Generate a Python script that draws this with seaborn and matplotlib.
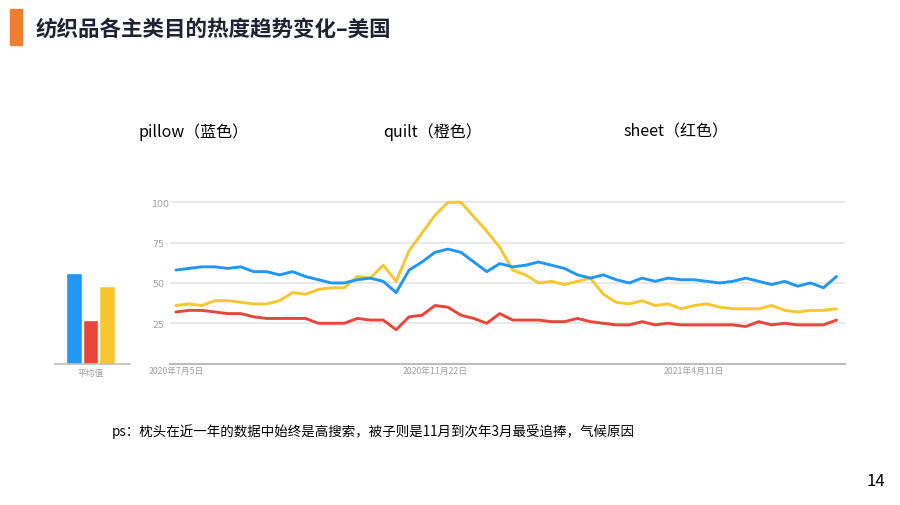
import matplotlib

matplotlib.use("Agg")
import matplotlib.pyplot as plt
import matplotlib.patches as mpatches
import pandas as pd
import seaborn as sns

# weekly search interest, 2020-07-05 .. 2021-06-27 (52 weeks)
PILLOW = [58, 59, 60, 60, 59, 60, 57, 57, 55, 57, 54, 52, 50, 50, 52, 53, 51, 44,
          58, 63, 69, 71, 69, 63, 57, 62, 60, 61, 63, 61, 59, 55, 53, 55, 52, 50,
          53, 51, 53, 52, 52, 51, 50, 51, 53, 51, 49, 51, 48, 50, 47, 54]
QUILT = [36, 37, 36, 39, 39, 38, 37, 37, 39, 44, 43, 46, 47, 47, 54, 53, 61, 51,
         70, 81, 92, 100, 100, 91, 82, 72, 58, 55, 50, 51, 49, 51, 53, 43, 38, 37,
         39, 36, 37, 34, 36, 37, 35, 34, 34, 34, 36, 33, 32, 33, 33, 34]
SHEET = [32, 33, 33, 32, 31, 31, 29, 28, 28, 28, 28, 25, 25, 25, 28, 27, 27, 21,
         29, 30, 36, 35, 30, 28, 25, 31, 27, 27, 27, 26, 26, 28, 26, 25, 24, 24,
         26, 24, 25, 24, 24, 24, 24, 24, 23, 26, 24, 25, 24, 24, 24, 27]

AVERAGES = [56, 27, 48]  # pillow, sheet, quilt as shown in the avg panel
AVG_ORDER = ["pillow", "sheet", "quilt"]

X_TICKS = [0, 20, 40]
X_TICK_LABELS = ["2020年7月5日", "2020年11月22日", "2021年4月11日"]
Y_TICKS = [25, 50, 75, 100]

COLORS = {"pillow": "#2196f3", "quilt": "#f8c630", "sheet": "#e8463b"}
GRID_COLOR = "#e3e3e3"
AXIS_COLOR = "#bdbdbd"
TICK_COLOR = "#9e9e9e"

W, H = 900, 506


def fig_box(left, top, right, bottom):
    return [left / W, 1 - bottom / H, (right - left) / W, (bottom - top) / H]


sns.set_theme(style="white")
plt.rcParams["font.family"] = ["Noto Sans CJK SC", "DejaVu Sans"]

trend_df = pd.DataFrame({
    "week": list(range(len(PILLOW))) * 3,
    "value": PILLOW + QUILT + SHEET,
    "term": ["pillow"] * len(PILLOW) + ["quilt"] * len(QUILT) + ["sheet"] * len(SHEET),
})
avg_df = pd.DataFrame({"term": AVG_ORDER, "avg": AVERAGES})

fig = plt.figure(figsize=(9, 5.06), dpi=100)

# main trend panel
y_top_px = 364.6 - 104 * 1.613
ax = fig.add_axes(fig_box(170, y_top_px, 845, 364.6))
for y in Y_TICKS:
    ax.axhline(y, color=GRID_COLOR, lw=1.1, zorder=0)
sns.lineplot(
    data=trend_df, x="week", y="value", hue="term",
    palette=COLORS, hue_order=["quilt", "pillow", "sheet"],
    linewidth=2.1, legend=False, ax=ax, zorder=3,
)
ax.set_xlim(-0.46, 51.66)
ax.set_ylim(0, 104)
for side in ["top", "right", "left"]:
    ax.spines[side].set_visible(False)
ax.spines["bottom"].set_color(AXIS_COLOR)
ax.spines["bottom"].set_linewidth(1.5)
ax.set_xticks(X_TICKS)
ax.set_xticklabels(X_TICK_LABELS, fontsize=6.3, color=TICK_COLOR)
ax.set_yticks(Y_TICKS)
ax.set_yticklabels([str(v) for v in Y_TICKS], fontsize=6.8, color=TICK_COLOR,
                   family=["DejaVu Sans"])
for lab in ax.get_yticklabels():
    lab.set_horizontalalignment("left")
ax.tick_params(axis="y", length=0, pad=13)
ax.tick_params(axis="x", length=0, pad=2)
ax.set_xlabel("")
ax.set_ylabel("")

# average panel
ax_bar = fig.add_axes(fig_box(55, y_top_px, 130, 364.6))
sns.barplot(
    data=avg_df, x="term", y="avg", hue="term", saturation=1,
    palette=COLORS, order=AVG_ORDER, width=0.94, legend=False, ax=ax_bar,
)
ax_bar.set_xlim(-1.15, 3.4)
ax_bar.set_ylim(0, 104)
for side in ["top", "right", "left"]:
    ax_bar.spines[side].set_visible(False)
ax_bar.spines["bottom"].set_color(AXIS_COLOR)
ax_bar.spines["bottom"].set_linewidth(1.2)
ax_bar.set_xticks([])
ax_bar.set_yticks([])
ax_bar.set_xlabel("")
ax_bar.set_ylabel("")
ax_bar.text(1, -2.5, "平均值", ha="center", va="top", fontsize=6.3,
            color=TICK_COLOR, transform=ax_bar.transData)

# header
fig.patches.append(mpatches.Rectangle((10 / W, 1 - 46 / H), 12 / W, 36 / H,
                                      transform=fig.transFigure,
                                      color="#f08030", zorder=5))
fig.text(36 / W, 1 - 29 / H, "纺织品各主类目的热度趋势变化–美国",
         fontsize=15.5, fontweight="bold", color="#1f2233", va="center", ha="left")

# series captions
for x_px, label in [(138, "pillow（蓝色）"), (383, "quilt（橙色）"), (623, "sheet（红色）")]:
    fig.text(x_px / W, 1 - 132 / H, label, fontsize=11.5, color="black",
             va="center", ha="left")

fig.text(112 / W, 1 - 432 / H,
         "ps：枕头在近一年的数据中始终是高搜索，被子则是11月到次年3月最受追捧，气候原因",
         fontsize=9.7, color="black", va="center", ha="left")
fig.text(876 / W, 1 - 482 / H, "14", fontsize=12, color="black",
         va="center", ha="center")

fig.savefig("out.png", dpi=100, facecolor="white")
